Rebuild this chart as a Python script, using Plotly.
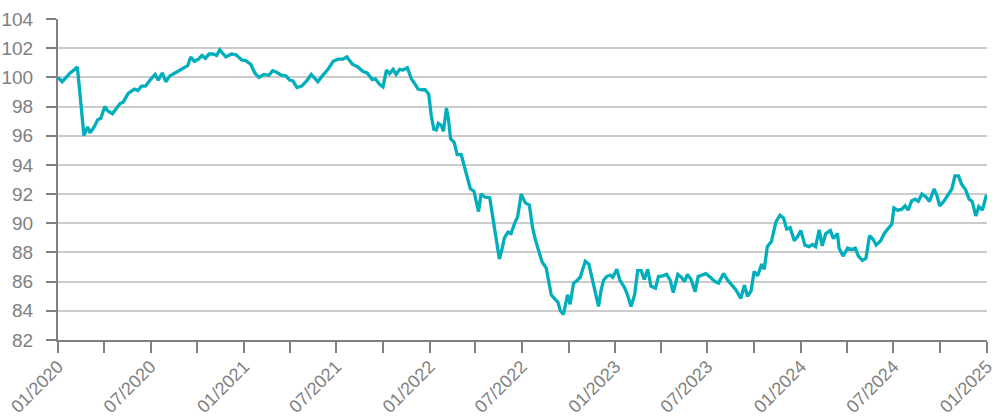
import plotly.graph_objects as go

dates = [
    "2020-01-01", "2020-01-09", "2020-01-25", "2020-02-08", "2020-02-21", "2020-02-28", "2020-03-04", "2020-03-12",
    "2020-03-19", "2020-03-25", "2020-04-02", "2020-04-08", "2020-04-17", "2020-04-25", "2020-05-02", "2020-05-08",
    "2020-05-18", "2020-05-30", "2020-06-06", "2020-06-13", "2020-06-21", "2020-07-02", "2020-07-10", "2020-07-16",
    "2020-07-24", "2020-07-31", "2020-08-08", "2020-08-18", "2020-08-28", "2020-09-06", "2020-09-12", "2020-09-18",
    "2020-09-25", "2020-10-03", "2020-10-10", "2020-10-17", "2020-10-24", "2020-11-01", "2020-11-08", "2020-11-14",
    "2020-11-26", "2020-12-07", "2020-12-16", "2020-12-27", "2021-01-04", "2021-01-14", "2021-01-22", "2021-01-30",
    "2021-02-09", "2021-02-19", "2021-02-26", "2021-03-06", "2021-03-15", "2021-03-24", "2021-04-01", "2021-04-07",
    "2021-04-15", "2021-04-24", "2021-05-04", "2021-05-13", "2021-05-22", "2021-05-26", "2021-06-05", "2021-06-15",
    "2021-06-25", "2021-07-05", "2021-07-14", "2021-07-22", "2021-08-02", "2021-08-13", "2021-08-23", "2021-08-31",
    "2021-09-10", "2021-09-16", "2021-09-25", "2021-10-01", "2021-10-08", "2021-10-14", "2021-10-21", "2021-10-27",
    "2021-11-03", "2021-11-09", "2021-11-18", "2021-11-26", "2021-12-02", "2021-12-09", "2021-12-17", "2021-12-23",
    "2021-12-30", "2022-01-04", "2022-01-09", "2022-01-14", "2022-01-18", "2022-01-24", "2022-01-28", "2022-02-03",
    "2022-02-07", "2022-02-11", "2022-02-18", "2022-02-24", "2022-03-04", "2022-03-11", "2022-03-17", "2022-03-22",
    "2022-03-29", "2022-04-03", "2022-04-07", "2022-04-12", "2022-04-19", "2022-04-29", "2022-05-05", "2022-05-12",
    "2022-05-18", "2022-05-23", "2022-05-28", "2022-06-04", "2022-06-10", "2022-06-17", "2022-06-23", "2022-06-30",
    "2022-07-08", "2022-07-16", "2022-07-22", "2022-07-28", "2022-08-04", "2022-08-10", "2022-08-18", "2022-08-23",
    "2022-08-28", "2022-09-03", "2022-09-10", "2022-09-15", "2022-09-21", "2022-09-29", "2022-10-04", "2022-10-11",
    "2022-10-17", "2022-10-24", "2022-10-28", "2022-11-03", "2022-11-10", "2022-11-16", "2022-11-23", "2022-11-29",
    "2022-12-04", "2022-12-09", "2022-12-15", "2022-12-22", "2022-12-27", "2023-01-04", "2023-01-10", "2023-01-19",
    "2023-01-25", "2023-02-01", "2023-02-08", "2023-02-14", "2023-02-21", "2023-02-27", "2023-03-06", "2023-03-12",
    "2023-03-21", "2023-03-27", "2023-04-04", "2023-04-12", "2023-04-19", "2023-04-25", "2023-05-04", "2023-05-11",
    "2023-05-17", "2023-05-23", "2023-05-30", "2023-06-07", "2023-06-13", "2023-06-22", "2023-06-28", "2023-07-07",
    "2023-07-16", "2023-07-23", "2023-08-02", "2023-08-10", "2023-08-18", "2023-08-26", "2023-09-05", "2023-09-12",
    "2023-09-18", "2023-09-25", "2023-10-01", "2023-10-08", "2023-10-16", "2023-10-21", "2023-10-27", "2023-11-04",
    "2023-11-13", "2023-11-21", "2023-11-28", "2023-12-04", "2023-12-11", "2023-12-19", "2023-12-25", "2024-01-01",
    "2024-01-09", "2024-01-17", "2024-01-24", "2024-01-30", "2024-02-06", "2024-02-12", "2024-02-19", "2024-02-28",
    "2024-03-05", "2024-03-13", "2024-03-16", "2024-03-24", "2024-04-02", "2024-04-10", "2024-04-17", "2024-04-23",
    "2024-05-01", "2024-05-08", "2024-05-15", "2024-05-22", "2024-05-28", "2024-06-06", "2024-06-13", "2024-06-21",
    "2024-06-28", "2024-07-02", "2024-07-09", "2024-07-17", "2024-07-24", "2024-07-30", "2024-08-06", "2024-08-13",
    "2024-08-19", "2024-08-26", "2024-09-03", "2024-09-10", "2024-09-19", "2024-09-25", "2024-09-30", "2024-10-08",
    "2024-10-17", "2024-10-24", "2024-10-30", "2024-11-06", "2024-11-12", "2024-11-20", "2024-11-27", "2024-12-03",
    "2024-12-10", "2024-12-16", "2024-12-23", "2024-12-31",
]

values = [
    100.0, 99.7, 100.3, 100.7, 96.0, 96.6, 96.2, 96.6,
    97.1, 97.2, 98.0, 97.7, 97.5, 97.9, 98.2, 98.3,
    98.9, 99.2, 99.1, 99.4, 99.4, 99.9, 100.2, 99.8,
    100.3, 99.7, 100.1, 100.3, 100.5, 100.7, 100.8, 101.4,
    101.1, 101.25, 101.5, 101.3, 101.6, 101.6, 101.5, 101.9,
    101.4, 101.6, 101.55, 101.2, 101.15, 100.9, 100.3, 100.0,
    100.2, 100.15, 100.45, 100.35, 100.15, 100.1, 99.8, 99.75,
    99.3, 99.4, 99.75, 100.2, 99.85, 99.7, 100.15, 100.55,
    101.1, 101.25, 101.25, 101.4, 100.9, 100.7, 100.4, 100.3,
    99.85, 99.9, 99.5, 99.35, 100.5, 100.25, 100.55, 100.2,
    100.55, 100.5, 100.65, 99.9, 99.6, 99.2, 99.15, 99.15,
    98.85, 97.4, 96.45, 96.4, 96.85, 96.7, 96.3, 97.9,
    97.1, 95.8, 95.55, 94.7, 94.7, 93.75, 93.1, 92.35,
    92.2, 91.4, 90.8, 92.0, 91.8, 91.75, 90.35, 88.75,
    87.55, 88.2, 89.0, 89.4, 89.3, 90.0, 90.45, 92.0,
    91.4, 91.25, 89.75, 88.85, 88.05, 87.35, 86.95, 85.9,
    85.1, 84.85, 84.6, 84.0, 83.75, 85.1, 84.45, 85.9,
    86.05, 86.3, 86.7, 87.4, 87.2, 86.2, 85.2, 84.3,
    85.4, 86.1, 86.35, 86.45, 86.3, 86.85, 86.1, 85.6,
    85.1, 84.3, 85.1, 86.75, 86.75, 86.15, 86.85, 85.7,
    85.55, 86.35, 86.4, 86.5, 86.1, 85.25, 86.5, 86.3,
    86.0, 86.5, 86.15, 85.3, 86.35, 86.5, 86.55, 86.3,
    86.0, 85.9, 86.55, 86.1, 85.75, 85.45, 84.85, 85.75,
    85.0, 85.35, 86.7, 86.4, 87.2, 86.85, 88.4, 88.75,
    90.1, 90.55, 90.35, 89.6, 89.7, 88.8, 89.05, 89.5,
    88.5, 88.4, 88.55, 88.4, 89.55, 88.45, 89.3, 89.5,
    88.95, 89.3, 88.3, 87.75, 88.3, 88.2, 88.3, 87.75,
    87.45, 87.6, 89.15, 88.9, 88.5, 88.8, 89.3, 89.65,
    89.95, 91.05, 90.9, 90.95, 91.2, 90.9, 91.55, 91.65,
    91.5, 92.0, 91.8, 91.5, 92.35, 91.85, 91.2, 91.5,
    91.95, 92.35, 93.25, 93.25, 92.7, 92.3, 91.65, 91.5,
    90.5, 91.15, 90.9, 91.95,
]

tick_dates = [
    "2020-01-01", "2020-04-01", "2020-07-01", "2020-10-01",
    "2021-01-01", "2021-04-01", "2021-07-01", "2021-10-01",
    "2022-01-01", "2022-04-01", "2022-07-01", "2022-10-01",
    "2023-01-01", "2023-04-01", "2023-07-01", "2023-10-01",
    "2024-01-01", "2024-04-01", "2024-07-01", "2024-10-01",
    "2025-01-01",
]
tick_labels = [
    "01/2020", "", "07/2020", "",
    "01/2021", "", "07/2021", "",
    "01/2022", "", "07/2022", "",
    "01/2023", "", "07/2023", "",
    "01/2024", "", "07/2024", "",
    "01/2025",
]
y_ticks = [82, 84, 86, 88, 90, 92, 94, 96, 98, 100, 102, 104]

GRAY = "#808080"
FONT = dict(family="Liberation Sans, Arial, sans-serif", size=19, color=GRAY)
XFONT = dict(family="Liberation Sans, Arial, sans-serif", size=18, color=GRAY)

fig = go.Figure(
    go.Scatter(
        x=dates, y=values, mode="lines",
        line=dict(color="#00AFBB", width=3.3),
        hoverinfo="skip", showlegend=False, cliponaxis=False,
    )
)

fig.update_layout(
    width=992, height=419,
    margin=dict(l=58, r=5, t=19, b=79, autoexpand=False),
    paper_bgcolor="white", plot_bgcolor="white",
    font=FONT,
    showlegend=False,
)

fig.update_xaxes(
    type="date",
    range=["2019-12-31 22:00", "2025-01-01 02:00"],
    tickmode="array", tickvals=tick_dates, ticktext=tick_labels,
    tickangle=-45,
    ticks="outside", ticklen=11, tickwidth=2, tickcolor=GRAY,
    showline=True, linecolor=GRAY, linewidth=2,
    showgrid=False, zeroline=False,
    automargin=False,
    ticklabeloverflow="allow",
    ticklabelstandoff=-4,
    tickfont=XFONT,
)

fig.update_yaxes(
    range=[82, 104],
    tickmode="array", tickvals=y_ticks,
    ticks="outside", ticklen=10, tickwidth=2, tickcolor=GRAY,
    showline=True, linecolor=GRAY, linewidth=2,
    showgrid=True, gridcolor="#CCCCCC", gridwidth=2,
    zeroline=False,
    automargin=False,
    ticklabelstandoff=9,
    tickfont=FONT,
)

fig.write_html(
    "out.html",
    config={"displayModeBar": False},
    post_script="document.body.style.margin='0';document.body.style.overflow='hidden';",
)
